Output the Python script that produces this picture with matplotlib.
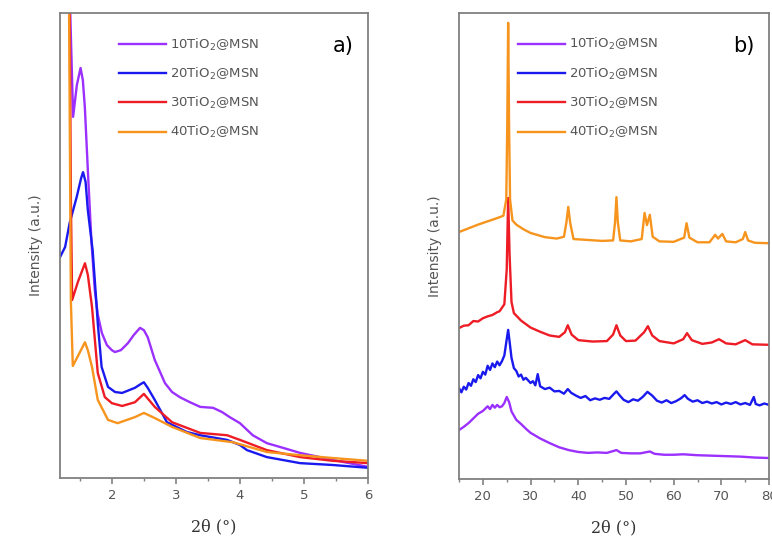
import matplotlib
matplotlib.use('Agg')
import matplotlib.pyplot as plt
from matplotlib.ticker import MultipleLocator

# Подписи образцов и цвета
labels = ['10TiO$_2$@MSN', '20TiO$_2$@MSN', '30TiO$_2$@MSN', '40TiO$_2$@MSN']
colors = ['#9b30ff', '#1a1aee', '#ee1c25', '#f7941d']

# a) малоугловые дифрактограммы
sa_x_10 = [1.33, 1.395, 1.453, 1.511, 1.547, 1.578, 1.63, 1.683, 1.734, 1.781, 1.844, 1.922, 2.0, 2.047,
           2.14, 2.25, 2.344, 2.44, 2.5, 2.56, 2.67, 2.83, 2.94, 3.06, 3.22, 3.38, 3.58, 3.72, 3.84, 4.0,
           4.2, 4.42, 4.67, 4.94, 5.45, 6.0]
sa_y_10 = [110, 77.7, 84.5, 88.2, 85.6, 79.8, 64.8, 50.5, 40.4, 35.1, 31.2, 28.6, 27.5, 27.1,
           27.5, 29.0, 30.8, 32.3, 31.8, 30.3, 25.4, 20.4, 18.5, 17.4, 16.3, 15.3, 15.1, 14.2, 13.1, 11.8,
           9.2, 7.5, 6.5, 5.4, 3.9, 2.4]

sa_x_20 = [1.19, 1.27, 1.34, 1.45, 1.52, 1.55, 1.59, 1.625, 1.70, 1.75, 1.78, 1.84, 1.94, 2.05, 2.16,
           2.36, 2.45, 2.5, 2.56, 2.67, 2.86, 3.17, 3.38, 3.80, 4.0, 4.11, 4.42, 4.94, 5.45, 6.0]
sa_y_20 = [47.5, 49.7, 54.8, 60.4, 64.5, 65.8, 63.7, 57.6, 49.0, 39.4, 33.3, 23.9, 19.6, 18.5, 18.3,
           19.4, 20.2, 20.6, 19.4, 16.8, 12.0, 9.9, 9.2, 8.2, 7.1, 6.0, 4.5, 3.2, 2.8, 2.2]

sa_x_30 = [1.34, 1.36, 1.38, 1.47, 1.58, 1.625, 1.69, 1.78, 1.89, 2.0, 2.16, 2.36, 2.5, 2.67, 2.94,
           3.38, 3.80, 4.0, 4.42, 4.94, 5.45, 6.0]
sa_y_30 = [105, 60, 38.3, 42.2, 46.2, 43.7, 36.8, 22.6, 17.4, 16.1, 15.5, 16.3, 18.1, 15.3, 12.0,
           9.7, 9.2, 8.2, 6.0, 4.5, 3.7, 3.2]

sa_x_40 = [1.33, 1.36, 1.39, 1.48, 1.58, 1.625, 1.69, 1.78, 1.94, 2.09, 2.36, 2.5, 2.67, 2.94, 3.38,
           3.89, 4.42, 4.94, 5.45, 6.0]
sa_y_40 = [105, 38, 24.1, 26.5, 29.2, 27.5, 23.9, 16.8, 12.5, 11.8, 13.1, 14.0, 12.9, 11.0, 8.6,
           7.7, 5.6, 4.9, 4.3, 3.7]

# b) широкоугловые дифрактограммы
wa_x_10 = [15, 16, 17, 18, 19, 20, 21, 21.5, 22, 22.5, 23, 23.5, 24, 24.5, 25, 25.5, 26, 27, 28, 29, 30,
           32, 34, 36, 38, 40, 42, 44, 46, 48, 49, 51, 53, 55, 56, 58, 60, 62, 65, 68, 71, 74, 77, 80]
wa_y_10 = [10.5, 11.2, 12.0, 13.0, 14.0, 14.6, 15.6, 15.0, 15.9, 15.3, 15.9, 15.4, 15.6, 16.3, 17.6, 16.5,
           14.5, 12.7, 11.8, 10.8, 9.9, 8.7, 7.7, 6.8, 6.2, 5.8, 5.6, 5.7, 5.6, 6.2, 5.6, 5.5, 5.5, 5.9,
           5.4, 5.2, 5.2, 5.3, 5.1, 5.0, 4.9, 4.8, 4.6, 4.5]

wa_x_20 = [15, 15.5, 16, 16.5, 17, 17.5, 18, 18.5, 19, 19.5, 20, 20.5, 21, 21.5, 22, 22.5, 23, 23.5, 24,
           24.5, 25.0, 25.3, 25.6, 26, 26.5, 27, 27.5, 28, 28.5, 29, 30, 30.5, 31, 31.5, 32, 33, 34, 35,
           36, 37, 37.8, 38.5, 39.5, 40.5, 41.5, 42.5, 43.5, 44.5, 45.5, 46.5, 47.5, 48, 48.8, 49.5, 50.5,
           51.5, 52.5, 53.5, 54.5, 55.5, 56.5, 57.5, 58.5, 59.5, 60.5, 61.5, 62.3, 63, 64, 65, 66, 67, 68,
           69, 70, 71, 72, 73, 74, 75, 76, 76.8, 77.2, 78, 79, 80]
wa_y_20 = [19.5, 18.6, 19.8, 19.2, 20.6, 20.0, 21.4, 20.8, 22.3, 21.6, 23.0, 22.4, 24.3, 23.4, 24.8, 24.0,
           25.2, 24.4, 25.3, 26.5, 30.0, 32.0, 29.5, 26.0, 23.8, 23.2, 22.0, 22.4, 21.3, 21.7, 20.6, 21.0,
           20.1, 22.5, 19.9, 19.3, 19.6, 18.8, 18.9, 18.3, 19.3, 18.5, 17.9, 17.4, 17.8, 16.9, 17.3, 17.0,
           17.4, 17.2, 18.3, 18.8, 17.8, 17.0, 16.5, 17.1, 16.8, 17.6, 18.7, 17.9, 16.8, 16.4, 16.9, 16.3,
           16.7, 17.3, 18.0, 17.2, 16.6, 16.9, 16.3, 16.6, 16.2, 16.5, 16.0, 16.4, 16.1, 16.5, 16.0, 16.3,
           15.9, 17.6, 16.1, 15.8, 16.2, 15.9]

wa_x_30 = [15, 16, 17, 18, 19, 20, 21, 22, 23, 23.5, 24.5, 25.0, 25.3, 25.6, 26.0, 26.5, 28, 30, 32, 34,
           36, 37.2, 37.8, 38.6, 40, 43, 46, 47.3, 48.0, 48.8, 50, 52, 53.8, 54.6, 55.5, 57, 60, 62, 62.8,
           63.8, 66, 68, 69.5, 71, 73, 75, 76.5, 80]
wa_y_30 = [32.4, 32.9, 33.0, 33.9, 33.8, 34.5, 34.9, 35.2, 35.8, 36.0, 37.5, 45, 60.3, 48, 38, 35.6, 34.0,
           32.5, 31.6, 30.8, 30.5, 31.5, 33.0, 31.0, 29.8, 29.5, 29.6, 31.0, 33.0, 30.8, 29.6, 29.7, 31.5,
           32.8, 30.8, 29.6, 29.1, 30.0, 31.3, 29.8, 29.0, 29.3, 30.0, 29.1, 28.9, 29.8, 28.9, 28.8]

wa_x_40 = [15, 17, 19, 21, 23, 24.3, 24.9, 25.1, 25.3, 25.5, 25.7, 26.2, 27, 28.5, 30, 33, 35.5, 37, 37.5,
           37.9, 38.3, 39, 42, 45, 47.3, 47.7, 48.0, 48.3, 48.8, 51, 53.3, 53.9, 54.4, 55.0, 55.6, 57, 60,
           62.2, 62.7, 63.3, 65, 67.5, 68.7, 69.3, 70.2, 71, 73, 74.5, 75.0, 75.6, 77, 80]
wa_y_40 = [53.0, 53.8, 54.6, 55.3, 56.0, 56.5, 60, 75, 97.9, 75, 60, 55.5, 54.6, 53.6, 52.8, 51.9, 51.6,
           52.0, 55, 58.4, 55, 51.5, 51.3, 51.1, 51.2, 55, 60.5, 55, 51.2, 51.0, 51.5, 57.1, 54.5, 56.7, 52,
           51.0, 50.9, 51.8, 54.9, 51.8, 50.8, 50.8, 52.4, 51.6, 52.6, 51.0, 50.8, 51.5, 53.0, 51.2, 50.7,
           50.6]

sa_x = [sa_x_10, sa_x_20, sa_x_30, sa_x_40]
sa_y = [sa_y_10, sa_y_20, sa_y_30, sa_y_40]
wa_x = [wa_x_10, wa_x_20, wa_x_30, wa_x_40]
wa_y = [wa_y_10, wa_y_20, wa_y_30, wa_y_40]

spine_col = '#808080'
text_col = '#555555'

fig = plt.figure(figsize=(7.72, 5.38), dpi=100)
ax1 = fig.add_axes([0.0777, 0.1115, 0.399, 0.864])
ax2 = fig.add_axes([0.5946, 0.1097, 0.4016, 0.866])


def style_axes(ax, xlim, major, minor, tag):
    ax.set_xlim(*xlim)
    ax.set_ylim(0, 100)
    ax.set_yticks([])
    ax.xaxis.set_major_locator(MultipleLocator(major))
    ax.xaxis.set_minor_locator(MultipleLocator(minor))
    ax.tick_params(axis='x', which='major', direction='out', length=4, width=1.2,
                   colors=spine_col, labelcolor=text_col, labelsize=9.5, pad=4)
    ax.tick_params(axis='x', which='minor', direction='out', length=2.5, width=1.0, colors=spine_col)
    for s in ax.spines.values():
        s.set_color(spine_col)
        s.set_linewidth(1.3)
    ax.set_ylabel('Intensity (a.u.)', color=text_col, fontsize=10, labelpad=12)
    ax.set_xlabel('2θ (°)', color='#333333', fontsize=11.5, family='DejaVu Serif', labelpad=12)
    ax.text(0.92, 0.93, tag, transform=ax.transAxes, fontsize=15, ha='center', va='center', color='black')
    leg = ax.legend(loc='upper left', bbox_to_anchor=(0.19, 0.95), frameon=False, fontsize=9.5,
                    handlelength=3.6, handletextpad=0.3, labelspacing=1.0, borderaxespad=0, borderpad=0)
    for t in leg.get_texts():
        t.set_color(text_col)


for x, y, c, lab in zip(sa_x, sa_y, colors, labels):
    ax1.plot(x, y, color=c, lw=1.7, label=lab)
style_axes(ax1, (1.19, 6.0), 1, 0.5, 'a)')

for x, y, c, lab in zip(wa_x, wa_y, colors, labels):
    ax2.plot(x, y, color=c, lw=1.7, label=lab)
style_axes(ax2, (15, 80), 10, 5, 'b)')

fig.savefig('out.png', dpi=100)
plt.close(fig)
